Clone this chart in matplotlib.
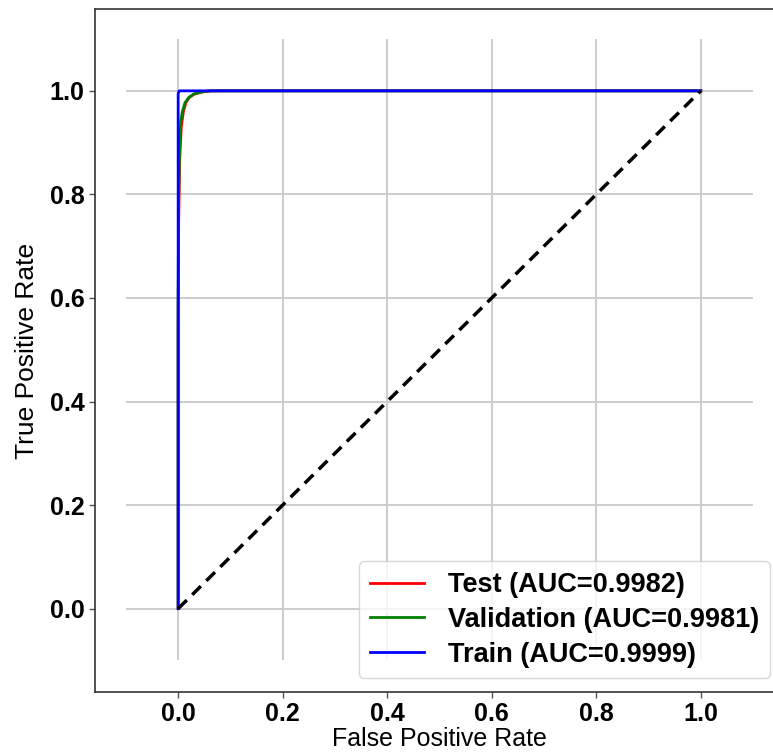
import matplotlib
matplotlib.use("Agg")
import matplotlib.pyplot as plt
from matplotlib.patches import Rectangle

plt.rcParams["font.family"] = ["Liberation Sans", "DejaVu Sans"]

# ROC points
test_fpr = [0.0, 0.0, 0.001, 0.003, 0.006, 0.010, 0.015, 0.022, 0.032, 0.047, 0.065, 1.0]
test_tpr = [0.0, 0.55, 0.75, 0.87, 0.93, 0.96, 0.978, 0.988, 0.994, 0.998, 1.0, 1.0]
val_fpr = [0.0, 0.0, 0.001, 0.003, 0.005, 0.008, 0.013, 0.020, 0.030, 0.045, 0.060, 1.0]
val_tpr = [0.0, 0.6, 0.8, 0.9, 0.94, 0.96, 0.977, 0.987, 0.994, 0.998, 1.0, 1.0]
train_fpr = [0.0, 0.0, 0.002, 1.0]
train_tpr = [0.0, 0.995, 1.0, 1.0]

labels = ["Test (AUC=0.9982)", "Validation (AUC=0.9981)", "Train (AUC=0.9999)"]
colors = ["red", "green", "blue"]
ticks = [0.0, 0.2, 0.4, 0.6, 0.8, 1.0]

fig = plt.figure(figsize=(7.73, 7.53), dpi=100)
ax = fig.add_axes([0.123, 0.081, 0.891, 0.907])

ax.plot(test_fpr, test_tpr, color=colors[0], lw=2, label=labels[0])
ax.plot(val_fpr, val_tpr, color=colors[1], lw=2, label=labels[1])
ax.plot(train_fpr, train_tpr, color=colors[2], lw=2, label=labels[2])
ax.plot([0, 1], [0, 1], color="black", lw=2.5, linestyle=(0, (3.5, 2.2)))

ax.set_xlim(-0.159, 1.159)
ax.set_ylim(-0.161, 1.158)
ax.set_xticks(ticks)
ax.set_yticks(ticks)
ax.tick_params(labelsize=18, length=4, color="#555555", width=1)
for t in ax.get_xticklabels() + ax.get_yticklabels():
    t.set_fontweight("bold")

ax.grid(True, color="#cccccc", lw=1.4)
ax.set_axisbelow(True)
clip = Rectangle((-0.1, -0.1), 1.2, 1.2, transform=ax.transData)
for gl in ax.get_xgridlines() + ax.get_ygridlines():
    gl.set_clip_path(clip)

for s in ax.spines.values():
    s.set_color("#333333")
    s.set_linewidth(1.2)

ax.set_xlabel("False Positive Rate", fontsize=18, labelpad=0.5)
ax.set_ylabel("True Positive Rate", fontsize=19, labelpad=8)

leg = ax.legend(loc="lower right", prop={"size": 19.5, "weight": "bold"},
                handlelength=2.0, handletextpad=0.9, labelspacing=0.32,
                borderpad=0.4, fancybox=True, framealpha=0.8)
leg.get_frame().set_edgecolor("#cccccc")

fig.savefig("out.png", dpi=100)
